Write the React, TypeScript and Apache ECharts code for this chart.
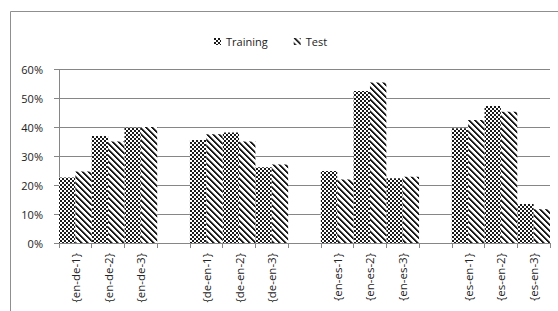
import React, { useEffect, useRef } from "react";
import * as echarts from "echarts";

const categories = [
  "{en-de-1}", "{en-de-2}", "{en-de-3}", " ",
  "{de-en-1}", "{de-en-2}", "{de-en-3}", "  ",
  "{en-es-1}", "{en-es-2}", "{en-es-3}", "   ",
  "{es-en-1}", "{es-en-2}", "{es-en-3}",
];
const trainingValues = [22.7, 37.0, 39.9, null, 35.6, 38.2, 26.2, null, 24.9, 52.6, 22.4, null, 39.7, 47.4, 13.5];
const testValues = [24.7, 35.1, 40.1, null, 37.6, 35.1, 27.2, null, 22.0, 55.5, 22.9, null, 42.6, 45.4, 11.7];
const yTicks = { min: 0, max: 60, interval: 10 };

function makeChecker(): HTMLCanvasElement {
  const c = document.createElement("canvas");
  c.width = 4;
  c.height = 4;
  const ctx = c.getContext("2d")!;
  ctx.fillStyle = "#ffffff";
  ctx.fillRect(0, 0, 4, 4);
  ctx.fillStyle = "#1a1a1a";
  ctx.fillRect(0, 0, 2, 2);
  ctx.fillRect(2, 2, 2, 2);
  return c;
}

function makeStripes(): HTMLCanvasElement {
  const n = 6;
  const c = document.createElement("canvas");
  c.width = n;
  c.height = n;
  const ctx = c.getContext("2d")!;
  ctx.fillStyle = "#ffffff";
  ctx.fillRect(0, 0, n, n);
  for (let y = 0; y < n; y++) {
    for (let x = 0; x < n; x++) {
      const d = (((x - y) % n) + n) % n;
      if (d < 2) {
        ctx.fillStyle = "#1a1a1a";
        ctx.fillRect(x, y, 1, 1);
      } else if (d === 2) {
        ctx.fillStyle = "#8a8a8a";
        ctx.fillRect(x, y, 1, 1);
      }
    }
  }
  return c;
}

export default function App() {
  const ref = useRef<HTMLDivElement>(null);
  useEffect(() => {
    document.body.style.margin = "0";
    const chart = echarts.init(ref.current!, undefined, { renderer: "svg" });
    const font = "'Open Sans', 'Noto Sans', sans-serif";
    const checker = { image: makeChecker(), repeat: "repeat" } as any;
    const stripes = { image: makeStripes(), repeat: "repeat" } as any;
    chart.setOption({
      animation: false,
      backgroundColor: "#ffffff",
      textStyle: { fontFamily: font },
      graphic: [
        {
          type: "rect",
          shape: { x: 10.5, y: 11.5, width: 700, height: 500 },
          style: { fill: "none", stroke: "#8f8f8f", lineWidth: 1 },
          silent: true,
        },
      ],
      legend: {
        left: 209,
        top: 31,
        itemWidth: 7,
        itemHeight: 7,
        itemGap: 26,
        icon: "rect",
        textStyle: { fontFamily: font, fontSize: 11, color: "#222" },
        data: ["Training", "Test"],
      },
      grid: { left: 59, right: 8, top: 69.6, bottom: 68, containLabel: false },
      xAxis: {
        type: "category",
        data: categories,
        axisLine: { lineStyle: { color: "#868686", width: 1 } },
        axisTick: { show: true, interval: 0, length: 5, lineStyle: { color: "#868686" } },
        axisLabel: {
          interval: 0,
          rotate: 90,
          margin: 10,
          fontFamily: font,
          fontSize: 11.5,
          color: "#222",
        },
        splitLine: { show: false },
      },
      yAxis: {
        type: "value",
        min: yTicks.min,
        max: yTicks.max,
        interval: yTicks.interval,
        axisLine: { show: true, lineStyle: { color: "#868686", width: 1 } },
        axisTick: { show: true, length: 5, lineStyle: { color: "#868686" } },
        axisLabel: {
          formatter: "{value}%",
          margin: 16,
          fontFamily: font,
          fontSize: 11,
          color: "#222",
        },
        splitLine: { show: true, lineStyle: { color: "#868686", width: 1 } },
      },
      series: [
        {
          name: "Training",
          type: "bar",
          data: trainingValues,
          barGap: "0%",
          barCategoryGap: "0%",
          itemStyle: { color: checker },
        },
        {
          name: "Test",
          type: "bar",
          data: testValues,
          barGap: "0%",
          barCategoryGap: "0%",
          itemStyle: { color: stripes },
        },
      ],
    });
    return () => chart.dispose();
  }, []);
  return (
    <div
      ref={ref}
      style={{ position: "absolute", left: 0, top: 0, width: 558, height: 311 }}
    />
  );
}
